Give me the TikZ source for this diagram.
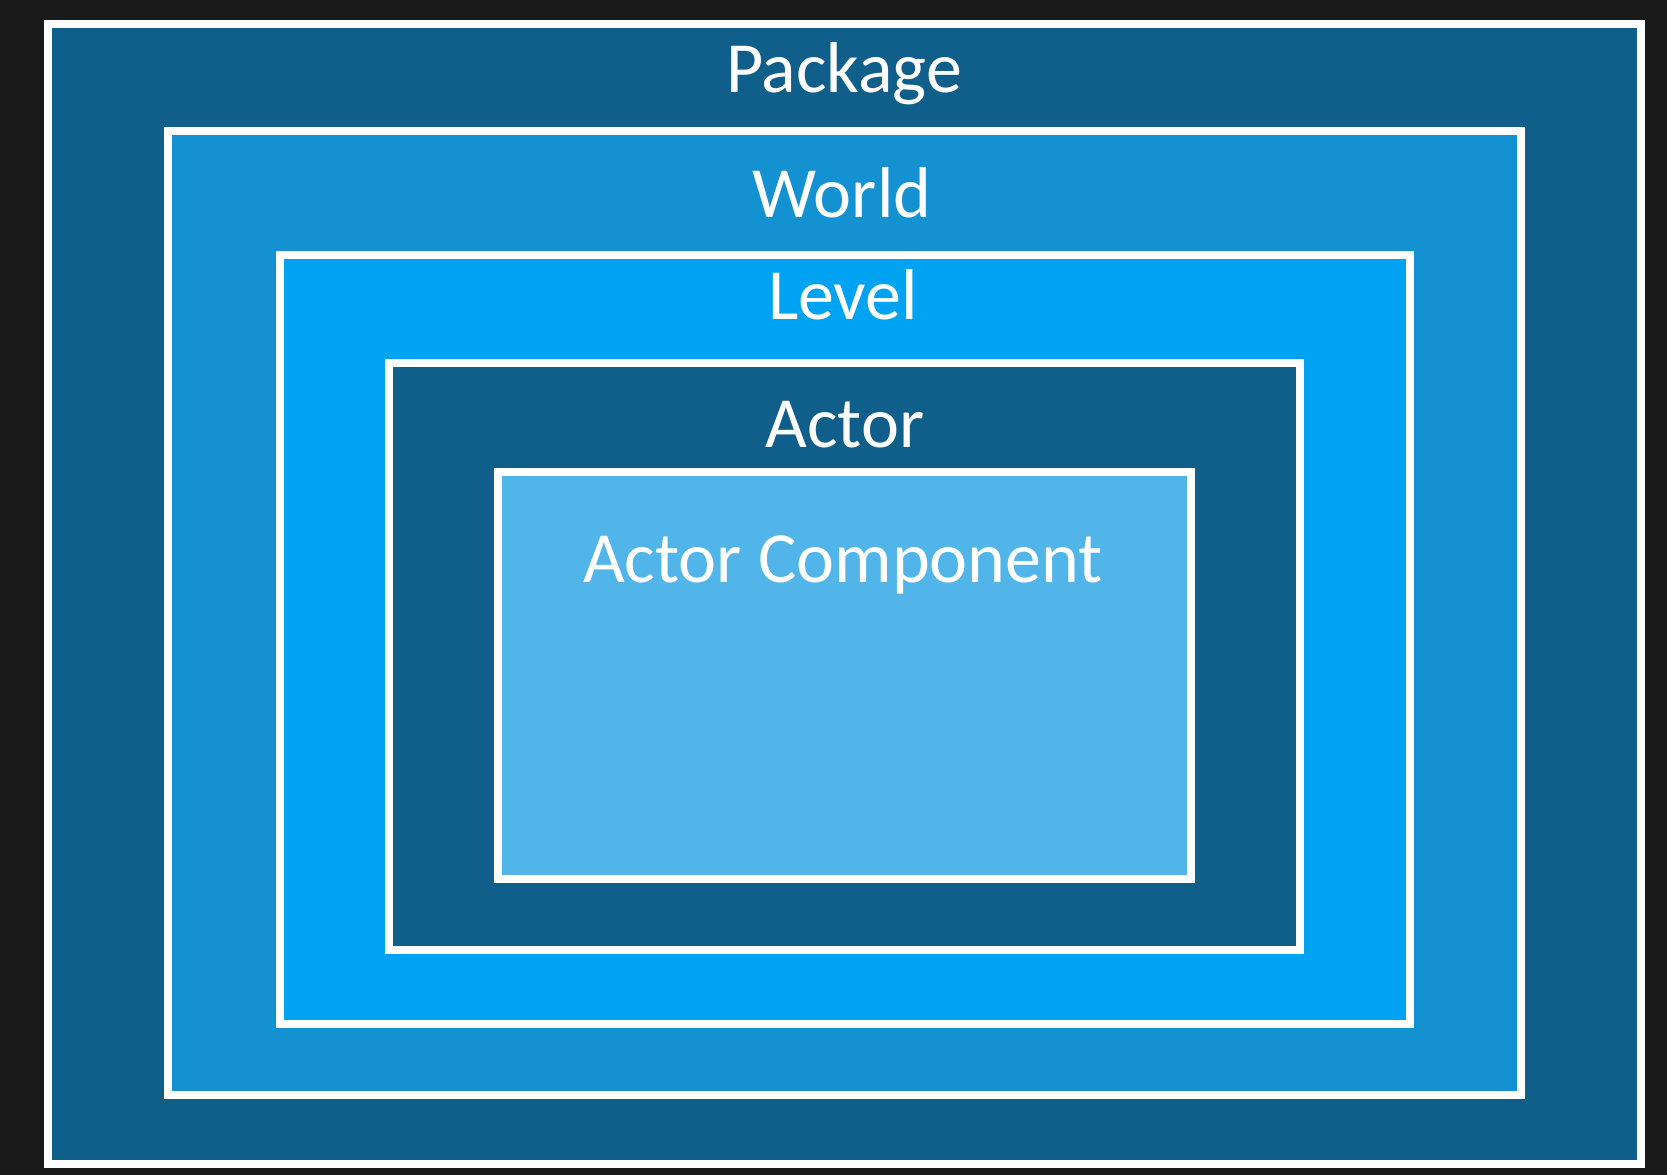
\documentclass[tikz,border=0pt]{standalone}
\usepackage{fontspec}
\setmainfont{Carlito}
\definecolor{backdrop}{HTML}{1A1A1A}
\definecolor{packageblue}{HTML}{0F5F8A}
\definecolor{worldblue}{HTML}{1491D1}
\definecolor{levelblue}{HTML}{00A3F2}
\definecolor{actorblue}{HTML}{0F5F8A}
\definecolor{componentblue}{HTML}{52B5EA}

\begin{document}
\begin{tikzpicture}
  [x=0.1mm, y=-0.1mm,
   box/.style={draw=white, line width=0.8mm},
   every node/.style={text=white, anchor=base, inner sep=0pt,
                      font=\fontsize{20.5}{24}\selectfont}]
  \fill[backdrop] (0,0) rectangle (1667,1175);
  \draw[box, fill=packageblue] (48,24) rectangle (1641,1164);
  \draw[box, fill=worldblue] (168,131) rectangle (1521,1095);
  \draw[box, fill=levelblue] (280,255) rectangle (1410,1024);
  \draw[box, fill=actorblue] (389,363) rectangle (1300,950);
  \draw[box, fill=componentblue] (498,472) rectangle (1191,879);
  \node (package) at (844,93) {Package};
  \node (world) at (842,218) {World};
  \node (level) at (843,320) {Level};
  \node (actor) at (845,448) {Actor};
  \node (component) at (843,583) {Actor Component};
\end{tikzpicture}
\end{document}
